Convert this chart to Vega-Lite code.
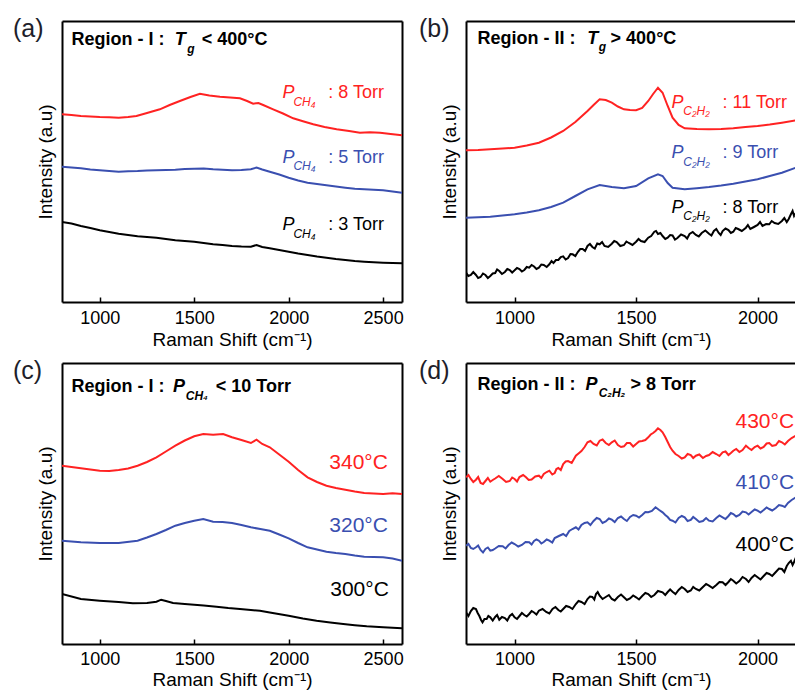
{
  "$schema": "https://vega.github.io/schema/vega-lite/v6.json",
  "padding": {"left": 13, "top": 17, "right": 0, "bottom": 0},
  "background": "white",
  "config": {
    "view": {"stroke": null},
    "font": "Liberation Sans",
    "axis": {"domainColor": "black", "domainWidth": 2, "labelFont": "Liberation Sans", "titleFont": "Liberation Sans", "labelFontSize": 18, "titleFontSize": 19, "titleFontWeight": "normal", "labelColor": "black", "titleColor": "black", "grid": false, "tickColor": "black", "tickSize": -5, "tickWidth": 1.5, "labelPadding": 12.5, "format": "d"},
    "axisX": {"titlePadding": 3},
    "axisY": {"titlePadding": 7},
    "title": {"font": "Liberation Sans", "fontSize": 25, "fontWeight": "normal", "anchor": "start", "frame": "group", "offset": 0, "baseline": "alphabetic", "color": "#1e1e2a"},
    "style": {
      "hd": {"font": "Liberation Sans", "fontSize": 18, "fontWeight": "bold", "align": "left", "baseline": "alphabetic", "color": "black"},
      "hdi": {"font": "Liberation Sans", "fontSize": 18, "fontWeight": "bold", "fontStyle": "italic", "align": "left", "baseline": "alphabetic", "color": "black"},
      "hds": {"font": "Liberation Sans", "fontSize": 12, "fontWeight": "bold", "fontStyle": "italic", "align": "left", "baseline": "alphabetic", "color": "black"},
      "lg": {"font": "Liberation Sans", "fontSize": 18, "align": "left", "baseline": "alphabetic"},
      "lgi": {"font": "Liberation Sans", "fontSize": 18, "fontStyle": "italic", "align": "left", "baseline": "alphabetic"},
      "lgs": {"font": "Liberation Sans", "fontSize": 12, "fontStyle": "italic", "align": "left", "baseline": "alphabetic"},
      "tm": {"font": "Liberation Sans", "fontSize": 21, "align": "left", "baseline": "alphabetic"}
    }
  },
  "datasets": {
    "L": [
      {"p":"a","k":"h","x":850,"y":256.7,"t":"Region - I :"},
      {"p":"a","k":"h","x":1540,"y":256.7,"t":"< 400°C"},
      {"p":"a","k":"hi","x":1397,"y":256.7,"t":"T"},
      {"p":"a","k":"hs","x":1463,"y":249,"t":"g"},
      {"p":"a","k":"l","s":"r","x":2210,"y":203.7,"t":": 8 Torr"},
      {"p":"a","k":"l","s":"b","x":2210,"y":139.3,"t":": 5 Torr"},
      {"p":"a","k":"l","s":"k","x":2210,"y":72,"t":": 3 Torr"},
      {"p":"a","k":"li","s":"r","x":1968,"y":203.7,"t":"P"},
      {"p":"a","k":"li","s":"b","x":1968,"y":139.3,"t":"P"},
      {"p":"a","k":"li","s":"k","x":1968,"y":72,"t":"P"},
      {"p":"a","k":"ls","s":"r","x":2025,"y":196,"t":"CH₄"},
      {"p":"a","k":"ls","s":"b","x":2025,"y":131.6,"t":"CH₄"},
      {"p":"a","k":"ls","s":"k","x":2025,"y":64.3,"t":"CH₄"},
      {"p":"b","k":"h","x":847,"y":257.7,"t":"Region - II :"},
      {"p":"b","k":"h","x":1395,"y":257.7,"t":"> 400°C"},
      {"p":"b","k":"hi","x":1299,"y":257.7,"t":"T"},
      {"p":"b","k":"hs","x":1346,"y":251,"t":"g"},
      {"p":"b","k":"l","s":"r","x":1856,"y":194.3,"t":": 11 Torr"},
      {"p":"b","k":"l","s":"b","x":1856,"y":143.7,"t":":   9 Torr"},
      {"p":"b","k":"l","s":"k","x":1856,"y":89.3,"t":":   8 Torr"},
      {"p":"b","k":"li","s":"r","x":1646,"y":194.3,"t":"P"},
      {"p":"b","k":"li","s":"b","x":1646,"y":143.7,"t":"P"},
      {"p":"b","k":"li","s":"k","x":1646,"y":89.3,"t":"P"},
      {"p":"b","k":"ls","s":"r","x":1694,"y":186.8,"t":"C₂H₂"},
      {"p":"b","k":"ls","s":"b","x":1694,"y":136.2,"t":"C₂H₂"},
      {"p":"b","k":"ls","s":"k","x":1694,"y":81.8,"t":"C₂H₂"},
      {"p":"c","k":"h","x":850,"y":251.7,"t":"Region - I :"},
      {"p":"c","k":"hi","x":1387,"y":251.7,"t":"P"},
      {"p":"c","k":"hs","x":1455,"y":244.5,"t":"CH₄"},
      {"p":"c","k":"h","x":1614,"y":251.7,"t":"< 10 Torr"},
      {"p":"c","k":"tm","s":"r","x":2215,"y":175,"t":"340°C"},
      {"p":"c","k":"tm","s":"b","x":2215,"y":111.7,"t":"320°C"},
      {"p":"c","k":"tm","s":"k","x":2220,"y":48.3,"t":"300°C"},
      {"p":"d","k":"h","x":847,"y":254.3,"t":"Region - II :"},
      {"p":"d","k":"hi","x":1292,"y":254.3,"t":"P"},
      {"p":"d","k":"hs","x":1346,"y":247.5,"t":"C₂H₂"},
      {"p":"d","k":"h","x":1477,"y":254.3,"t":"> 8 Torr"},
      {"p":"d","k":"tm","s":"r","x":1909,"y":215.7,"t":"430°C"},
      {"p":"d","k":"tm","s":"b","x":1909,"y":155,"t":"410°C"},
      {"p":"d","k":"tm","s":"k","x":1909,"y":93.3,"t":"400°C"}
    ],
    "S": [
      {"p":"a","s":"r","x":800,"y":187.7},{"p":"a","s":"r","x":850,"y":187},{"p":"a","s":"r","x":900,"y":186},{"p":"a","s":"r","x":950,"y":185.6},{"p":"a","s":"r","x":1000,"y":185},{"p":"a","s":"r","x":1050,"y":184.8},{"p":"a","s":"r","x":1100,"y":184.3},{"p":"a","s":"r","x":1150,"y":185},{"p":"a","s":"r","x":1194,"y":186},{"p":"a","s":"r","x":1250,"y":189},{"p":"a","s":"r","x":1318,"y":192.7},{"p":"a","s":"r","x":1370,"y":197},{"p":"a","s":"r","x":1424,"y":201},{"p":"a","s":"r","x":1480,"y":205},{"p":"a","s":"r","x":1530,"y":208.3},{"p":"a","s":"r","x":1580,"y":206.5},{"p":"a","s":"r","x":1636,"y":205.3},{"p":"a","s":"r","x":1690,"y":204.5},{"p":"a","s":"r","x":1742,"y":203.7},{"p":"a","s":"r","x":1780,"y":201},{"p":"a","s":"r","x":1812,"y":198.3},{"p":"a","s":"r","x":1840,"y":199},{"p":"a","s":"r","x":1865,"y":197},{"p":"a","s":"r","x":1918,"y":192.7},{"p":"a","s":"r","x":1970,"y":188.5},{"p":"a","s":"r","x":2024,"y":183.7},{"p":"a","s":"r","x":2080,"y":180.5},{"p":"a","s":"r","x":2130,"y":177.7},{"p":"a","s":"r","x":2190,"y":175},{"p":"a","s":"r","x":2254,"y":172.7},{"p":"a","s":"r","x":2320,"y":171},{"p":"a","s":"r","x":2377,"y":169.3},{"p":"a","s":"r","x":2430,"y":169.8},{"p":"a","s":"r","x":2484,"y":169.3},{"p":"a","s":"r","x":2540,"y":168},{"p":"a","s":"r","x":2600,"y":166.7},
      {"p":"a","s":"b","x":800,"y":135.3},{"p":"a","s":"b","x":850,"y":134.5},{"p":"a","s":"b","x":900,"y":133.7},{"p":"a","s":"b","x":950,"y":132.5},{"p":"a","s":"b","x":1000,"y":131.7},{"p":"a","s":"b","x":1050,"y":131},{"p":"a","s":"b","x":1100,"y":130.3},{"p":"a","s":"b","x":1150,"y":130.8},{"p":"a","s":"b","x":1200,"y":131},{"p":"a","s":"b","x":1250,"y":131.5},{"p":"a","s":"b","x":1300,"y":131.7},{"p":"a","s":"b","x":1350,"y":132},{"p":"a","s":"b","x":1400,"y":132.3},{"p":"a","s":"b","x":1450,"y":133},{"p":"a","s":"b","x":1500,"y":133.3},{"p":"a","s":"b","x":1550,"y":133.5},{"p":"a","s":"b","x":1600,"y":132.7},{"p":"a","s":"b","x":1650,"y":132.2},{"p":"a","s":"b","x":1700,"y":131.7},{"p":"a","s":"b","x":1750,"y":132},{"p":"a","s":"b","x":1800,"y":132.7},{"p":"a","s":"b","x":1830,"y":134.5},{"p":"a","s":"b","x":1860,"y":132.5},{"p":"a","s":"b","x":1900,"y":130.3},{"p":"a","s":"b","x":1950,"y":127.5},{"p":"a","s":"b","x":2000,"y":124.3},{"p":"a","s":"b","x":2050,"y":121.5},{"p":"a","s":"b","x":2100,"y":119.3},{"p":"a","s":"b","x":2150,"y":118},{"p":"a","s":"b","x":2200,"y":116.7},{"p":"a","s":"b","x":2250,"y":115.5},{"p":"a","s":"b","x":2300,"y":114.3},{"p":"a","s":"b","x":2350,"y":113.2},{"p":"a","s":"b","x":2400,"y":112.7},{"p":"a","s":"b","x":2450,"y":112.2},{"p":"a","s":"b","x":2500,"y":111.7},{"p":"a","s":"b","x":2550,"y":110.5},{"p":"a","s":"b","x":2600,"y":109.3},
      {"p":"a","s":"k","x":800,"y":80},{"p":"a","s":"k","x":850,"y":78.5},{"p":"a","s":"k","x":900,"y":76},{"p":"a","s":"k","x":950,"y":74},{"p":"a","s":"k","x":1000,"y":71.7},{"p":"a","s":"k","x":1050,"y":70},{"p":"a","s":"k","x":1100,"y":68.3},{"p":"a","s":"k","x":1150,"y":67},{"p":"a","s":"k","x":1200,"y":65.7},{"p":"a","s":"k","x":1250,"y":65},{"p":"a","s":"k","x":1300,"y":64.3},{"p":"a","s":"k","x":1350,"y":63},{"p":"a","s":"k","x":1400,"y":61.7},{"p":"a","s":"k","x":1450,"y":61},{"p":"a","s":"k","x":1500,"y":60.3},{"p":"a","s":"k","x":1550,"y":59},{"p":"a","s":"k","x":1600,"y":57.7},{"p":"a","s":"k","x":1650,"y":57},{"p":"a","s":"k","x":1700,"y":56},{"p":"a","s":"k","x":1750,"y":55.5},{"p":"a","s":"k","x":1800,"y":55.3},{"p":"a","s":"k","x":1830,"y":57},{"p":"a","s":"k","x":1860,"y":55},{"p":"a","s":"k","x":1900,"y":53.7},{"p":"a","s":"k","x":1950,"y":52},{"p":"a","s":"k","x":2000,"y":50.3},{"p":"a","s":"k","x":2050,"y":48.5},{"p":"a","s":"k","x":2100,"y":47},{"p":"a","s":"k","x":2150,"y":45.5},{"p":"a","s":"k","x":2200,"y":44.3},{"p":"a","s":"k","x":2250,"y":43},{"p":"a","s":"k","x":2300,"y":42},{"p":"a","s":"k","x":2350,"y":41},{"p":"a","s":"k","x":2400,"y":40.3},{"p":"a","s":"k","x":2450,"y":39.8},{"p":"a","s":"k","x":2500,"y":39.3},{"p":"a","s":"k","x":2550,"y":39},{"p":"a","s":"k","x":2600,"y":38.7},
      {"p":"b","s":"r","x":800,"y":151.7},{"p":"b","s":"r","x":850,"y":152},{"p":"b","s":"r","x":900,"y":152.7},{"p":"b","s":"r","x":950,"y":153.5},{"p":"b","s":"r","x":1000,"y":154.3},{"p":"b","s":"r","x":1050,"y":156.5},{"p":"b","s":"r","x":1100,"y":159.3},{"p":"b","s":"r","x":1150,"y":164.5},{"p":"b","s":"r","x":1200,"y":171},{"p":"b","s":"r","x":1250,"y":180},{"p":"b","s":"r","x":1300,"y":191},{"p":"b","s":"r","x":1325,"y":197},{"p":"b","s":"r","x":1350,"y":202.7},{"p":"b","s":"r","x":1375,"y":202},{"p":"b","s":"r","x":1400,"y":199.3},{"p":"b","s":"r","x":1425,"y":195.5},{"p":"b","s":"r","x":1450,"y":192.7},{"p":"b","s":"r","x":1475,"y":192},{"p":"b","s":"r","x":1500,"y":191.7},{"p":"b","s":"r","x":1525,"y":194},{"p":"b","s":"r","x":1550,"y":201},{"p":"b","s":"r","x":1570,"y":208},{"p":"b","s":"r","x":1590,"y":214.3},{"p":"b","s":"r","x":1609,"y":209.3},{"p":"b","s":"r","x":1630,"y":196},{"p":"b","s":"r","x":1650,"y":184.3},{"p":"b","s":"r","x":1675,"y":177},{"p":"b","s":"r","x":1700,"y":173.7},{"p":"b","s":"r","x":1750,"y":173},{"p":"b","s":"r","x":1800,"y":172.7},{"p":"b","s":"r","x":1850,"y":173},{"p":"b","s":"r","x":1900,"y":173.7},{"p":"b","s":"r","x":1950,"y":175},{"p":"b","s":"r","x":2000,"y":176},{"p":"b","s":"r","x":2050,"y":177.5},{"p":"b","s":"r","x":2100,"y":179.3},{"p":"b","s":"r","x":2158,"y":181.7},{"p":"b","s":"r","x":2200,"y":183},
      {"p":"b","s":"b","x":800,"y":84.3},{"p":"b","s":"b","x":850,"y":84.8},{"p":"b","s":"b","x":900,"y":85.3},{"p":"b","s":"b","x":950,"y":86.5},{"p":"b","s":"b","x":1000,"y":87.7},{"p":"b","s":"b","x":1050,"y":89.5},{"p":"b","s":"b","x":1100,"y":91.7},{"p":"b","s":"b","x":1150,"y":95},{"p":"b","s":"b","x":1200,"y":99.3},{"p":"b","s":"b","x":1250,"y":106},{"p":"b","s":"b","x":1300,"y":112.7},{"p":"b","s":"b","x":1350,"y":117},{"p":"b","s":"b","x":1400,"y":115},{"p":"b","s":"b","x":1450,"y":113.7},{"p":"b","s":"b","x":1500,"y":116},{"p":"b","s":"b","x":1550,"y":123.7},{"p":"b","s":"b","x":1590,"y":127.7},{"p":"b","s":"b","x":1609,"y":126},{"p":"b","s":"b","x":1630,"y":119},{"p":"b","s":"b","x":1650,"y":114.3},{"p":"b","s":"b","x":1700,"y":112.7},{"p":"b","s":"b","x":1750,"y":113.8},{"p":"b","s":"b","x":1800,"y":115},{"p":"b","s":"b","x":1850,"y":116.5},{"p":"b","s":"b","x":1900,"y":118.3},{"p":"b","s":"b","x":1950,"y":120.5},{"p":"b","s":"b","x":2000,"y":122.7},{"p":"b","s":"b","x":2050,"y":126},{"p":"b","s":"b","x":2100,"y":129.3},{"p":"b","s":"b","x":2158,"y":134.3},{"p":"b","s":"b","x":2200,"y":136},
      {"p":"b","s":"k","x":800,"y":29.3},{"p":"b","s":"k","x":810,"y":26},{"p":"b","s":"k","x":820,"y":27},{"p":"b","s":"k","x":830,"y":30},{"p":"b","s":"k","x":841,"y":27},{"p":"b","s":"k","x":850,"y":24},{"p":"b","s":"k","x":860,"y":25},{"p":"b","s":"k","x":870,"y":28.5},{"p":"b","s":"k","x":880,"y":27},{"p":"b","s":"k","x":890,"y":24},{"p":"b","s":"k","x":900,"y":26},{"p":"b","s":"k","x":910,"y":28.5},{"p":"b","s":"k","x":920,"y":29},{"p":"b","s":"k","x":928,"y":32.5},{"p":"b","s":"k","x":937,"y":31},{"p":"b","s":"k","x":948,"y":28},{"p":"b","s":"k","x":960,"y":30},{"p":"b","s":"k","x":970,"y":33},{"p":"b","s":"k","x":980,"y":32},{"p":"b","s":"k","x":990,"y":29.5},{"p":"b","s":"k","x":1000,"y":31.7},{"p":"b","s":"k","x":1010,"y":34},{"p":"b","s":"k","x":1020,"y":33},{"p":"b","s":"k","x":1030,"y":30.5},{"p":"b","s":"k","x":1040,"y":32},{"p":"b","s":"k","x":1050,"y":35},{"p":"b","s":"k","x":1060,"y":34.3},{"p":"b","s":"k","x":1070,"y":37},{"p":"b","s":"k","x":1080,"y":35.5},{"p":"b","s":"k","x":1090,"y":33},{"p":"b","s":"k","x":1100,"y":34.3},{"p":"b","s":"k","x":1110,"y":37.5},{"p":"b","s":"k","x":1120,"y":37},{"p":"b","s":"k","x":1132,"y":35},{"p":"b","s":"k","x":1143,"y":37.7},{"p":"b","s":"k","x":1152,"y":41},{"p":"b","s":"k","x":1160,"y":39},{"p":"b","s":"k","x":1170,"y":42},{"p":"b","s":"k","x":1180,"y":42},{"p":"b","s":"k","x":1190,"y":45},{"p":"b","s":"k","x":1200,"y":45.7},{"p":"b","s":"k","x":1210,"y":42.5},{"p":"b","s":"k","x":1220,"y":44},{"p":"b","s":"k","x":1230,"y":48},{"p":"b","s":"k","x":1239,"y":47.7},{"p":"b","s":"k","x":1250,"y":46},{"p":"b","s":"k","x":1260,"y":50},{"p":"b","s":"k","x":1270,"y":53},{"p":"b","s":"k","x":1280,"y":53},{"p":"b","s":"k","x":1290,"y":51},{"p":"b","s":"k","x":1300,"y":56},{"p":"b","s":"k","x":1310,"y":58},{"p":"b","s":"k","x":1320,"y":55},{"p":"b","s":"k","x":1330,"y":53.5},{"p":"b","s":"k","x":1340,"y":58.5},{"p":"b","s":"k","x":1350,"y":57.7},{"p":"b","s":"k","x":1360,"y":60},{"p":"b","s":"k","x":1370,"y":56},{"p":"b","s":"k","x":1385,"y":55},{"p":"b","s":"k","x":1400,"y":58.3},{"p":"b","s":"k","x":1410,"y":61},{"p":"b","s":"k","x":1420,"y":60},{"p":"b","s":"k","x":1435,"y":56},{"p":"b","s":"k","x":1450,"y":57},{"p":"b","s":"k","x":1460,"y":60.5},{"p":"b","s":"k","x":1470,"y":59},{"p":"b","s":"k","x":1485,"y":57},{"p":"b","s":"k","x":1500,"y":60.3},{"p":"b","s":"k","x":1510,"y":63},{"p":"b","s":"k","x":1520,"y":61},{"p":"b","s":"k","x":1535,"y":60},{"p":"b","s":"k","x":1550,"y":64.3},{"p":"b","s":"k","x":1562,"y":66},{"p":"b","s":"k","x":1575,"y":70.3},{"p":"b","s":"k","x":1582,"y":71},{"p":"b","s":"k","x":1590,"y":68},{"p":"b","s":"k","x":1600,"y":69},{"p":"b","s":"k","x":1609,"y":66},{"p":"b","s":"k","x":1620,"y":63},{"p":"b","s":"k","x":1630,"y":64.3},{"p":"b","s":"k","x":1640,"y":67},{"p":"b","s":"k","x":1650,"y":66.5},{"p":"b","s":"k","x":1660,"y":62.5},{"p":"b","s":"k","x":1670,"y":64},{"p":"b","s":"k","x":1685,"y":67.5},{"p":"b","s":"k","x":1700,"y":66},{"p":"b","s":"k","x":1710,"y":63.5},{"p":"b","s":"k","x":1720,"y":68},{"p":"b","s":"k","x":1733,"y":70},{"p":"b","s":"k","x":1746,"y":67},{"p":"b","s":"k","x":1758,"y":65.5},{"p":"b","s":"k","x":1770,"y":69},{"p":"b","s":"k","x":1785,"y":71.5},{"p":"b","s":"k","x":1800,"y":68.3},{"p":"b","s":"k","x":1810,"y":66.5},{"p":"b","s":"k","x":1820,"y":71},{"p":"b","s":"k","x":1830,"y":73},{"p":"b","s":"k","x":1840,"y":69},{"p":"b","s":"k","x":1848,"y":67},{"p":"b","s":"k","x":1856,"y":71},{"p":"b","s":"k","x":1868,"y":73.5},{"p":"b","s":"k","x":1880,"y":72},{"p":"b","s":"k","x":1890,"y":69},{"p":"b","s":"k","x":1900,"y":70.3},{"p":"b","s":"k","x":1910,"y":74},{"p":"b","s":"k","x":1920,"y":73},{"p":"b","s":"k","x":1935,"y":71},{"p":"b","s":"k","x":1952,"y":74.3},{"p":"b","s":"k","x":1960,"y":77},{"p":"b","s":"k","x":1970,"y":73},{"p":"b","s":"k","x":1985,"y":75},{"p":"b","s":"k","x":2000,"y":77},{"p":"b","s":"k","x":2010,"y":80},{"p":"b","s":"k","x":2020,"y":76},{"p":"b","s":"k","x":2035,"y":78},{"p":"b","s":"k","x":2048,"y":77.7},{"p":"b","s":"k","x":2058,"y":81},{"p":"b","s":"k","x":2070,"y":79},{"p":"b","s":"k","x":2085,"y":78},{"p":"b","s":"k","x":2100,"y":81},{"p":"b","s":"k","x":2110,"y":84},{"p":"b","s":"k","x":2120,"y":80},{"p":"b","s":"k","x":2128,"y":83},{"p":"b","s":"k","x":2137,"y":87.7},{"p":"b","s":"k","x":2144,"y":91},{"p":"b","s":"k","x":2150,"y":86},{"p":"b","s":"k","x":2158,"y":89.3},{"p":"b","s":"k","x":2170,"y":92},{"p":"b","s":"k","x":2180,"y":90},
      {"p":"c","s":"r","x":800,"y":178.3},{"p":"c","s":"r","x":900,"y":175.7},{"p":"c","s":"r","x":1000,"y":173.3},{"p":"c","s":"r","x":1050,"y":173},{"p":"c","s":"r","x":1100,"y":174},{"p":"c","s":"r","x":1150,"y":175.5},{"p":"c","s":"r","x":1200,"y":178.3},{"p":"c","s":"r","x":1250,"y":182},{"p":"c","s":"r","x":1300,"y":186.7},{"p":"c","s":"r","x":1350,"y":192.5},{"p":"c","s":"r","x":1400,"y":198.3},{"p":"c","s":"r","x":1450,"y":203.5},{"p":"c","s":"r","x":1500,"y":207.7},{"p":"c","s":"r","x":1548,"y":210},{"p":"c","s":"r","x":1600,"y":209.3},{"p":"c","s":"r","x":1653,"y":210},{"p":"c","s":"r","x":1700,"y":206.7},{"p":"c","s":"r","x":1750,"y":204},{"p":"c","s":"r","x":1800,"y":201},{"p":"c","s":"r","x":1830,"y":204.3},{"p":"c","s":"r","x":1860,"y":200},{"p":"c","s":"r","x":1900,"y":196.7},{"p":"c","s":"r","x":1950,"y":189.5},{"p":"c","s":"r","x":2000,"y":182.3},{"p":"c","s":"r","x":2050,"y":174},{"p":"c","s":"r","x":2100,"y":166.7},{"p":"c","s":"r","x":2150,"y":162},{"p":"c","s":"r","x":2200,"y":158.3},{"p":"c","s":"r","x":2250,"y":156},{"p":"c","s":"r","x":2300,"y":154.3},{"p":"c","s":"r","x":2350,"y":152.5},{"p":"c","s":"r","x":2400,"y":151},{"p":"c","s":"r","x":2450,"y":150.5},{"p":"c","s":"r","x":2500,"y":150},{"p":"c","s":"r","x":2550,"y":150.8},{"p":"c","s":"r","x":2600,"y":150},
      {"p":"c","s":"b","x":800,"y":103.3},{"p":"c","s":"b","x":900,"y":101.7},{"p":"c","s":"b","x":1000,"y":101},{"p":"c","s":"b","x":1100,"y":101},{"p":"c","s":"b","x":1200,"y":103.3},{"p":"c","s":"b","x":1250,"y":106.5},{"p":"c","s":"b","x":1300,"y":110},{"p":"c","s":"b","x":1350,"y":114},{"p":"c","s":"b","x":1400,"y":118.3},{"p":"c","s":"b","x":1450,"y":121},{"p":"c","s":"b","x":1500,"y":123.3},{"p":"c","s":"b","x":1548,"y":125},{"p":"c","s":"b","x":1600,"y":122.3},{"p":"c","s":"b","x":1650,"y":122},{"p":"c","s":"b","x":1700,"y":121},{"p":"c","s":"b","x":1750,"y":119},{"p":"c","s":"b","x":1800,"y":116.7},{"p":"c","s":"b","x":1850,"y":115},{"p":"c","s":"b","x":1900,"y":113.3},{"p":"c","s":"b","x":1950,"y":109.5},{"p":"c","s":"b","x":2000,"y":105.7},{"p":"c","s":"b","x":2050,"y":101},{"p":"c","s":"b","x":2100,"y":96.7},{"p":"c","s":"b","x":2150,"y":94.5},{"p":"c","s":"b","x":2200,"y":92.3},{"p":"c","s":"b","x":2250,"y":91},{"p":"c","s":"b","x":2300,"y":90},{"p":"c","s":"b","x":2350,"y":88.5},{"p":"c","s":"b","x":2400,"y":87.3},{"p":"c","s":"b","x":2450,"y":87},{"p":"c","s":"b","x":2500,"y":86.7},{"p":"c","s":"b","x":2550,"y":85.5},{"p":"c","s":"b","x":2600,"y":83.3},
      {"p":"c","s":"k","x":800,"y":50},{"p":"c","s":"k","x":900,"y":45},{"p":"c","s":"k","x":1000,"y":43.3},{"p":"c","s":"k","x":1100,"y":42},{"p":"c","s":"k","x":1175,"y":40.7},{"p":"c","s":"k","x":1250,"y":41},{"p":"c","s":"k","x":1300,"y":42.3},{"p":"c","s":"k","x":1325,"y":44.3},{"p":"c","s":"k","x":1350,"y":43},{"p":"c","s":"k","x":1388,"y":41},{"p":"c","s":"k","x":1450,"y":40},{"p":"c","s":"k","x":1500,"y":39.3},{"p":"c","s":"k","x":1550,"y":38.5},{"p":"c","s":"k","x":1618,"y":37.3},{"p":"c","s":"k","x":1680,"y":36},{"p":"c","s":"k","x":1742,"y":35},{"p":"c","s":"k","x":1800,"y":34},{"p":"c","s":"k","x":1848,"y":33.3},{"p":"c","s":"k","x":1900,"y":31.5},{"p":"c","s":"k","x":2000,"y":28.3},{"p":"c","s":"k","x":2075,"y":25.5},{"p":"c","s":"k","x":2148,"y":23.3},{"p":"c","s":"k","x":2220,"y":21.5},{"p":"c","s":"k","x":2289,"y":20},{"p":"c","s":"k","x":2350,"y":18.8},{"p":"c","s":"k","x":2413,"y":17.7},{"p":"c","s":"k","x":2500,"y":16.7},{"p":"c","s":"k","x":2600,"y":15.7},
      {"p":"d","s":"r","x":800,"y":166.7},{"p":"d","s":"r","x":810,"y":169},{"p":"d","s":"r","x":820,"y":165},{"p":"d","s":"r","x":830,"y":162},{"p":"d","s":"r","x":841,"y":164.3},{"p":"d","s":"r","x":850,"y":167},{"p":"d","s":"r","x":860,"y":161},{"p":"d","s":"r","x":870,"y":160},{"p":"d","s":"r","x":880,"y":163},{"p":"d","s":"r","x":890,"y":166},{"p":"d","s":"r","x":900,"y":162.3},{"p":"d","s":"r","x":910,"y":164},{"p":"d","s":"r","x":920,"y":165.5},{"p":"d","s":"r","x":935,"y":168},{"p":"d","s":"r","x":951,"y":165},{"p":"d","s":"r","x":965,"y":162},{"p":"d","s":"r","x":980,"y":163},{"p":"d","s":"r","x":990,"y":166.5},{"p":"d","s":"r","x":1000,"y":165},{"p":"d","s":"r","x":1010,"y":162.5},{"p":"d","s":"r","x":1020,"y":167},{"p":"d","s":"r","x":1035,"y":169},{"p":"d","s":"r","x":1047,"y":166.7},{"p":"d","s":"r","x":1058,"y":164},{"p":"d","s":"r","x":1070,"y":164.5},{"p":"d","s":"r","x":1085,"y":167.5},{"p":"d","s":"r","x":1100,"y":168.3},{"p":"d","s":"r","x":1110,"y":166},{"p":"d","s":"r","x":1120,"y":170},{"p":"d","s":"r","x":1132,"y":172},{"p":"d","s":"r","x":1143,"y":173.3},{"p":"d","s":"r","x":1155,"y":169.5},{"p":"d","s":"r","x":1165,"y":171},{"p":"d","s":"r","x":1172,"y":175},{"p":"d","s":"r","x":1180,"y":176},{"p":"d","s":"r","x":1190,"y":174},{"p":"d","s":"r","x":1200,"y":180},{"p":"d","s":"r","x":1210,"y":182.5},{"p":"d","s":"r","x":1220,"y":183},{"p":"d","s":"r","x":1235,"y":181},{"p":"d","s":"r","x":1252,"y":188.3},{"p":"d","s":"r","x":1263,"y":190.5},{"p":"d","s":"r","x":1275,"y":193},{"p":"d","s":"r","x":1288,"y":197},{"p":"d","s":"r","x":1300,"y":201.7},{"p":"d","s":"r","x":1312,"y":203},{"p":"d","s":"r","x":1325,"y":200},{"p":"d","s":"r","x":1338,"y":198.5},{"p":"d","s":"r","x":1350,"y":203.3},{"p":"d","s":"r","x":1362,"y":204.5},{"p":"d","s":"r","x":1375,"y":201},{"p":"d","s":"r","x":1388,"y":199},{"p":"d","s":"r","x":1400,"y":201.7},{"p":"d","s":"r","x":1412,"y":203.5},{"p":"d","s":"r","x":1425,"y":199},{"p":"d","s":"r","x":1438,"y":197},{"p":"d","s":"r","x":1450,"y":197.7},{"p":"d","s":"r","x":1462,"y":201},{"p":"d","s":"r","x":1475,"y":201},{"p":"d","s":"r","x":1488,"y":197.5},{"p":"d","s":"r","x":1500,"y":200},{"p":"d","s":"r","x":1512,"y":202.5},{"p":"d","s":"r","x":1525,"y":203},{"p":"d","s":"r","x":1538,"y":204},{"p":"d","s":"r","x":1550,"y":206.7},{"p":"d","s":"r","x":1560,"y":209.5},{"p":"d","s":"r","x":1570,"y":211},{"p":"d","s":"r","x":1580,"y":213},{"p":"d","s":"r","x":1590,"y":215.7},{"p":"d","s":"r","x":1600,"y":214},{"p":"d","s":"r","x":1609,"y":211.7},{"p":"d","s":"r","x":1620,"y":207},{"p":"d","s":"r","x":1630,"y":202},{"p":"d","s":"r","x":1640,"y":197},{"p":"d","s":"r","x":1650,"y":193.3},{"p":"d","s":"r","x":1662,"y":190},{"p":"d","s":"r","x":1675,"y":188},{"p":"d","s":"r","x":1688,"y":185.5},{"p":"d","s":"r","x":1700,"y":186.7},{"p":"d","s":"r","x":1712,"y":190},{"p":"d","s":"r","x":1725,"y":189},{"p":"d","s":"r","x":1735,"y":186},{"p":"d","s":"r","x":1746,"y":188.3},{"p":"d","s":"r","x":1760,"y":189.5},{"p":"d","s":"r","x":1775,"y":186},{"p":"d","s":"r","x":1788,"y":188},{"p":"d","s":"r","x":1800,"y":189},{"p":"d","s":"r","x":1815,"y":192},{"p":"d","s":"r","x":1830,"y":190},{"p":"d","s":"r","x":1843,"y":188},{"p":"d","s":"r","x":1856,"y":191.7},{"p":"d","s":"r","x":1868,"y":192.5},{"p":"d","s":"r","x":1880,"y":189},{"p":"d","s":"r","x":1890,"y":191},{"p":"d","s":"r","x":1900,"y":193.3},{"p":"d","s":"r","x":1912,"y":195},{"p":"d","s":"r","x":1925,"y":192},{"p":"d","s":"r","x":1938,"y":194},{"p":"d","s":"r","x":1952,"y":198.3},{"p":"d","s":"r","x":1963,"y":196},{"p":"d","s":"r","x":1975,"y":194},{"p":"d","s":"r","x":1988,"y":197},{"p":"d","s":"r","x":2000,"y":198.3},{"p":"d","s":"r","x":2012,"y":195.5},{"p":"d","s":"r","x":2025,"y":197},{"p":"d","s":"r","x":2037,"y":200.5},{"p":"d","s":"r","x":2048,"y":201},{"p":"d","s":"r","x":2060,"y":198},{"p":"d","s":"r","x":2075,"y":199},{"p":"d","s":"r","x":2088,"y":203},{"p":"d","s":"r","x":2100,"y":201.7},{"p":"d","s":"r","x":2112,"y":199.5},{"p":"d","s":"r","x":2125,"y":203},{"p":"d","s":"r","x":2140,"y":206},{"p":"d","s":"r","x":2158,"y":208.3},{"p":"d","s":"r","x":2170,"y":206},{"p":"d","s":"r","x":2180,"y":209},
      {"p":"d","s":"b","x":800,"y":98.3},{"p":"d","s":"b","x":810,"y":100},{"p":"d","s":"b","x":820,"y":96},{"p":"d","s":"b","x":830,"y":95},{"p":"d","s":"b","x":841,"y":96.7},{"p":"d","s":"b","x":850,"y":98.5},{"p":"d","s":"b","x":860,"y":94},{"p":"d","s":"b","x":870,"y":91.5},{"p":"d","s":"b","x":880,"y":95},{"p":"d","s":"b","x":890,"y":96.5},{"p":"d","s":"b","x":900,"y":93.3},{"p":"d","s":"b","x":910,"y":94},{"p":"d","s":"b","x":920,"y":95.5},{"p":"d","s":"b","x":935,"y":98},{"p":"d","s":"b","x":951,"y":97.7},{"p":"d","s":"b","x":963,"y":95.5},{"p":"d","s":"b","x":975,"y":99},{"p":"d","s":"b","x":988,"y":101.5},{"p":"d","s":"b","x":1000,"y":100},{"p":"d","s":"b","x":1015,"y":97.5},{"p":"d","s":"b","x":1030,"y":99},{"p":"d","s":"b","x":1045,"y":102},{"p":"d","s":"b","x":1060,"y":101.7},{"p":"d","s":"b","x":1070,"y":99.5},{"p":"d","s":"b","x":1080,"y":103},{"p":"d","s":"b","x":1090,"y":104.5},{"p":"d","s":"b","x":1100,"y":103.3},{"p":"d","s":"b","x":1110,"y":100.5},{"p":"d","s":"b","x":1120,"y":102},{"p":"d","s":"b","x":1132,"y":104.5},{"p":"d","s":"b","x":1143,"y":103.3},{"p":"d","s":"b","x":1155,"y":101.5},{"p":"d","s":"b","x":1165,"y":106},{"p":"d","s":"b","x":1182,"y":108},{"p":"d","s":"b","x":1200,"y":110},{"p":"d","s":"b","x":1212,"y":108},{"p":"d","s":"b","x":1225,"y":113},{"p":"d","s":"b","x":1238,"y":115},{"p":"d","s":"b","x":1252,"y":116.7},{"p":"d","s":"b","x":1263,"y":114.5},{"p":"d","s":"b","x":1275,"y":119},{"p":"d","s":"b","x":1288,"y":121},{"p":"d","s":"b","x":1300,"y":121.7},{"p":"d","s":"b","x":1312,"y":119},{"p":"d","s":"b","x":1325,"y":123},{"p":"d","s":"b","x":1338,"y":126},{"p":"d","s":"b","x":1350,"y":125},{"p":"d","s":"b","x":1362,"y":121},{"p":"d","s":"b","x":1375,"y":122.5},{"p":"d","s":"b","x":1388,"y":125.5},{"p":"d","s":"b","x":1400,"y":124.3},{"p":"d","s":"b","x":1412,"y":122},{"p":"d","s":"b","x":1425,"y":126},{"p":"d","s":"b","x":1438,"y":127.5},{"p":"d","s":"b","x":1450,"y":125},{"p":"d","s":"b","x":1462,"y":123},{"p":"d","s":"b","x":1475,"y":127},{"p":"d","s":"b","x":1488,"y":129},{"p":"d","s":"b","x":1500,"y":128.3},{"p":"d","s":"b","x":1512,"y":126.5},{"p":"d","s":"b","x":1525,"y":129},{"p":"d","s":"b","x":1538,"y":132},{"p":"d","s":"b","x":1550,"y":131.7},{"p":"d","s":"b","x":1565,"y":133},{"p":"d","s":"b","x":1580,"y":136.7},{"p":"d","s":"b","x":1595,"y":134},{"p":"d","s":"b","x":1609,"y":131.7},{"p":"d","s":"b","x":1620,"y":129},{"p":"d","s":"b","x":1630,"y":127},{"p":"d","s":"b","x":1640,"y":124},{"p":"d","s":"b","x":1650,"y":123.3},{"p":"d","s":"b","x":1662,"y":121.5},{"p":"d","s":"b","x":1675,"y":126},{"p":"d","s":"b","x":1688,"y":128},{"p":"d","s":"b","x":1700,"y":126.7},{"p":"d","s":"b","x":1712,"y":123},{"p":"d","s":"b","x":1725,"y":124},{"p":"d","s":"b","x":1735,"y":127},{"p":"d","s":"b","x":1746,"y":125},{"p":"d","s":"b","x":1760,"y":122},{"p":"d","s":"b","x":1775,"y":123},{"p":"d","s":"b","x":1788,"y":126},{"p":"d","s":"b","x":1800,"y":123.3},{"p":"d","s":"b","x":1815,"y":122.5},{"p":"d","s":"b","x":1830,"y":126},{"p":"d","s":"b","x":1843,"y":128.5},{"p":"d","s":"b","x":1856,"y":126.7},{"p":"d","s":"b","x":1868,"y":125},{"p":"d","s":"b","x":1880,"y":128},{"p":"d","s":"b","x":1890,"y":131},{"p":"d","s":"b","x":1900,"y":130},{"p":"d","s":"b","x":1912,"y":127.5},{"p":"d","s":"b","x":1925,"y":129},{"p":"d","s":"b","x":1938,"y":132.5},{"p":"d","s":"b","x":1952,"y":131.7},{"p":"d","s":"b","x":1963,"y":129.5},{"p":"d","s":"b","x":1975,"y":132},{"p":"d","s":"b","x":1988,"y":134.5},{"p":"d","s":"b","x":2000,"y":133.3},{"p":"d","s":"b","x":2012,"y":131.5},{"p":"d","s":"b","x":2025,"y":134},{"p":"d","s":"b","x":2037,"y":136.5},{"p":"d","s":"b","x":2048,"y":135},{"p":"d","s":"b","x":2060,"y":133.5},{"p":"d","s":"b","x":2075,"y":136},{"p":"d","s":"b","x":2088,"y":139},{"p":"d","s":"b","x":2100,"y":138.3},{"p":"d","s":"b","x":2112,"y":137},{"p":"d","s":"b","x":2125,"y":141},{"p":"d","s":"b","x":2140,"y":144},{"p":"d","s":"b","x":2158,"y":146.7},{"p":"d","s":"b","x":2170,"y":145},{"p":"d","s":"b","x":2180,"y":148},
      {"p":"d","s":"k","x":800,"y":31.7},{"p":"d","s":"k","x":810,"y":28},{"p":"d","s":"k","x":820,"y":33},{"p":"d","s":"k","x":830,"y":36},{"p":"d","s":"k","x":841,"y":35},{"p":"d","s":"k","x":848,"y":31},{"p":"d","s":"k","x":855,"y":28},{"p":"d","s":"k","x":862,"y":24},{"p":"d","s":"k","x":868,"y":21.7},{"p":"d","s":"k","x":876,"y":25},{"p":"d","s":"k","x":885,"y":25},{"p":"d","s":"k","x":892,"y":28},{"p":"d","s":"k","x":900,"y":26.7},{"p":"d","s":"k","x":910,"y":23.5},{"p":"d","s":"k","x":920,"y":27},{"p":"d","s":"k","x":928,"y":29},{"p":"d","s":"k","x":937,"y":24.3},{"p":"d","s":"k","x":948,"y":27},{"p":"d","s":"k","x":960,"y":26},{"p":"d","s":"k","x":970,"y":23.5},{"p":"d","s":"k","x":980,"y":28},{"p":"d","s":"k","x":990,"y":30},{"p":"d","s":"k","x":1000,"y":26.7},{"p":"d","s":"k","x":1010,"y":25},{"p":"d","s":"k","x":1020,"y":28},{"p":"d","s":"k","x":1030,"y":31},{"p":"d","s":"k","x":1040,"y":29},{"p":"d","s":"k","x":1050,"y":27.5},{"p":"d","s":"k","x":1060,"y":30},{"p":"d","s":"k","x":1070,"y":33},{"p":"d","s":"k","x":1080,"y":31.5},{"p":"d","s":"k","x":1090,"y":29.5},{"p":"d","s":"k","x":1100,"y":33.3},{"p":"d","s":"k","x":1115,"y":35},{"p":"d","s":"k","x":1130,"y":32},{"p":"d","s":"k","x":1143,"y":30.5},{"p":"d","s":"k","x":1156,"y":35},{"p":"d","s":"k","x":1168,"y":37},{"p":"d","s":"k","x":1180,"y":34},{"p":"d","s":"k","x":1190,"y":32.5},{"p":"d","s":"k","x":1200,"y":35},{"p":"d","s":"k","x":1212,"y":38},{"p":"d","s":"k","x":1225,"y":37},{"p":"d","s":"k","x":1238,"y":35},{"p":"d","s":"k","x":1252,"y":40},{"p":"d","s":"k","x":1263,"y":43},{"p":"d","s":"k","x":1275,"y":42},{"p":"d","s":"k","x":1288,"y":40},{"p":"d","s":"k","x":1300,"y":45},{"p":"d","s":"k","x":1310,"y":47.5},{"p":"d","s":"k","x":1320,"y":47},{"p":"d","s":"k","x":1328,"y":44.5},{"p":"d","s":"k","x":1335,"y":50},{"p":"d","s":"k","x":1342,"y":52},{"p":"d","s":"k","x":1350,"y":48.3},{"p":"d","s":"k","x":1362,"y":45},{"p":"d","s":"k","x":1375,"y":47},{"p":"d","s":"k","x":1388,"y":49},{"p":"d","s":"k","x":1400,"y":45},{"p":"d","s":"k","x":1412,"y":43.5},{"p":"d","s":"k","x":1425,"y":47},{"p":"d","s":"k","x":1438,"y":49.5},{"p":"d","s":"k","x":1450,"y":46.7},{"p":"d","s":"k","x":1462,"y":44},{"p":"d","s":"k","x":1475,"y":45.5},{"p":"d","s":"k","x":1488,"y":48.5},{"p":"d","s":"k","x":1500,"y":46.7},{"p":"d","s":"k","x":1512,"y":44.5},{"p":"d","s":"k","x":1525,"y":48},{"p":"d","s":"k","x":1538,"y":51},{"p":"d","s":"k","x":1550,"y":50},{"p":"d","s":"k","x":1562,"y":47},{"p":"d","s":"k","x":1575,"y":49},{"p":"d","s":"k","x":1590,"y":53},{"p":"d","s":"k","x":1609,"y":51.7},{"p":"d","s":"k","x":1620,"y":49},{"p":"d","s":"k","x":1630,"y":52},{"p":"d","s":"k","x":1640,"y":54.5},{"p":"d","s":"k","x":1650,"y":52.3},{"p":"d","s":"k","x":1662,"y":50},{"p":"d","s":"k","x":1675,"y":54},{"p":"d","s":"k","x":1688,"y":57},{"p":"d","s":"k","x":1700,"y":55},{"p":"d","s":"k","x":1712,"y":52},{"p":"d","s":"k","x":1725,"y":53.5},{"p":"d","s":"k","x":1735,"y":57},{"p":"d","s":"k","x":1746,"y":55},{"p":"d","s":"k","x":1760,"y":53.5},{"p":"d","s":"k","x":1775,"y":57},{"p":"d","s":"k","x":1788,"y":60},{"p":"d","s":"k","x":1800,"y":58.3},{"p":"d","s":"k","x":1815,"y":56},{"p":"d","s":"k","x":1830,"y":59},{"p":"d","s":"k","x":1843,"y":62},{"p":"d","s":"k","x":1856,"y":61.7},{"p":"d","s":"k","x":1868,"y":59},{"p":"d","s":"k","x":1880,"y":62},{"p":"d","s":"k","x":1890,"y":65},{"p":"d","s":"k","x":1900,"y":63.3},{"p":"d","s":"k","x":1912,"y":60.5},{"p":"d","s":"k","x":1925,"y":63},{"p":"d","s":"k","x":1938,"y":67},{"p":"d","s":"k","x":1952,"y":65},{"p":"d","s":"k","x":1963,"y":62},{"p":"d","s":"k","x":1975,"y":66},{"p":"d","s":"k","x":1988,"y":69},{"p":"d","s":"k","x":2000,"y":66.7},{"p":"d","s":"k","x":2012,"y":64.5},{"p":"d","s":"k","x":2025,"y":68},{"p":"d","s":"k","x":2037,"y":71},{"p":"d","s":"k","x":2048,"y":70},{"p":"d","s":"k","x":2060,"y":68},{"p":"d","s":"k","x":2075,"y":72},{"p":"d","s":"k","x":2088,"y":75.5},{"p":"d","s":"k","x":2100,"y":75},{"p":"d","s":"k","x":2110,"y":72},{"p":"d","s":"k","x":2120,"y":78},{"p":"d","s":"k","x":2128,"y":81},{"p":"d","s":"k","x":2137,"y":83.3},{"p":"d","s":"k","x":2144,"y":79},{"p":"d","s":"k","x":2150,"y":82},{"p":"d","s":"k","x":2158,"y":86.7},{"p":"d","s":"k","x":2170,"y":85},{"p":"d","s":"k","x":2180,"y":88}
    ]
  },
  "vconcat": [
    {"hconcat": [
      {
        "width": 340, "height": 281,
        "title": {"text": "(a)", "dx": -49, "dy": 25},
        "layer": [
          {"data": {"name": "S"}, "transform": [{"filter": "datum.p=='a'"}], "mark": {"type": "line", "strokeWidth": 2, "clip": true},
           "encoding": {
             "x": {"field": "x", "type": "quantitative", "scale": {"domain": [800, 2600], "nice": false, "zero": false}, "axis": {"orient": "bottom", "values": [1000, 1500, 2000, 2500], "format": "d", "title": "Raman Shift (cm⁻¹)"}},
             "y": {"field": "y", "type": "quantitative", "scale": {"domain": [0, 281], "nice": false, "zero": false}, "axis": {"orient": "left", "labels": false, "ticks": false, "title": "Intensity (a.u)"}},
             "color": {"field": "s", "type": "nominal", "scale": {"domain": ["r", "b", "k"], "range": ["#ff2222", "#3a4fb0", "#000000"]}, "legend": null}}},
          {"data": {"name": "L"}, "transform": [{"filter": "datum.p=='a' && datum.k=='h'"}], "mark": {"type": "text", "style": "hd"},
           "encoding": {"x": {"field": "x", "type": "quantitative", "scale": {"domain": [800, 2600], "nice": false, "zero": false}, "axis": {"orient": "top", "labels": false, "ticks": false, "title": null}},
             "y": {"field": "y", "type": "quantitative", "scale": {"domain": [0, 281], "nice": false, "zero": false}, "axis": {"orient": "right", "labels": false, "ticks": false, "title": null}}, "text": {"field": "t"}}},
          {"data": {"name": "L"}, "transform": [{"filter": "datum.p=='a' && datum.k=='hi'"}], "mark": {"type": "text", "style": "hdi"},
           "encoding": {"x": {"field": "x", "type": "quantitative", "scale": {"domain": [800, 2600], "nice": false, "zero": false}, "axis": null}, "y": {"field": "y", "type": "quantitative", "scale": {"domain": [0, 281], "nice": false, "zero": false}, "axis": null}, "text": {"field": "t"}}},
          {"data": {"name": "L"}, "transform": [{"filter": "datum.p=='a' && datum.k=='hs'"}], "mark": {"type": "text", "style": "hds"},
           "encoding": {"x": {"field": "x", "type": "quantitative", "scale": {"domain": [800, 2600], "nice": false, "zero": false}, "axis": null}, "y": {"field": "y", "type": "quantitative", "scale": {"domain": [0, 281], "nice": false, "zero": false}, "axis": null}, "text": {"field": "t"}}},
          {"data": {"name": "L"}, "transform": [{"filter": "datum.p=='a' && datum.k=='l'"}], "mark": {"type": "text", "style": "lg"},
           "encoding": {"x": {"field": "x", "type": "quantitative", "scale": {"domain": [800, 2600], "nice": false, "zero": false}, "axis": null}, "y": {"field": "y", "type": "quantitative", "scale": {"domain": [0, 281], "nice": false, "zero": false}, "axis": null}, "text": {"field": "t"}, "color": {"field": "s", "type": "nominal", "legend": null}}},
          {"data": {"name": "L"}, "transform": [{"filter": "datum.p=='a' && datum.k=='li'"}], "mark": {"type": "text", "style": "lgi"},
           "encoding": {"x": {"field": "x", "type": "quantitative", "scale": {"domain": [800, 2600], "nice": false, "zero": false}, "axis": null}, "y": {"field": "y", "type": "quantitative", "scale": {"domain": [0, 281], "nice": false, "zero": false}, "axis": null}, "text": {"field": "t"}, "color": {"field": "s", "type": "nominal", "legend": null}}},
          {"data": {"name": "L"}, "transform": [{"filter": "datum.p=='a' && datum.k=='ls'"}], "mark": {"type": "text", "style": "lgs"},
           "encoding": {"x": {"field": "x", "type": "quantitative", "scale": {"domain": [800, 2600], "nice": false, "zero": false}, "axis": null}, "y": {"field": "y", "type": "quantitative", "scale": {"domain": [0, 281], "nice": false, "zero": false}, "axis": null}, "text": {"field": "t"}, "color": {"field": "s", "type": "nominal", "legend": null}}}
        ],
        "resolve": {"axis": {"x": "independent", "y": "independent"}}
      },
      {
        "width": 330, "height": 281,
        "title": {"text": "(b)", "dx": -47, "dy": 25},
        "layer": [
          {"data": {"name": "S"}, "transform": [{"filter": "datum.p=='b'"}], "mark": {"type": "line", "strokeWidth": 2, "clip": true},
           "encoding": {
             "x": {"field": "x", "type": "quantitative", "scale": {"domain": [800, 2158], "nice": false, "zero": false}, "axis": {"orient": "bottom", "values": [1000, 1500, 2000], "format": "d", "title": "Raman Shift (cm⁻¹)"}},
             "y": {"field": "y", "type": "quantitative", "scale": {"domain": [0, 281], "nice": false, "zero": false}, "axis": {"orient": "left", "labels": false, "ticks": false, "title": "Intensity (a.u)"}},
             "color": {"field": "s", "type": "nominal", "scale": {"domain": ["r", "b", "k"], "range": ["#ff2222", "#3a4fb0", "#000000"]}, "legend": null}}},
          {"data": {"name": "L"}, "transform": [{"filter": "datum.p=='b' && datum.k=='h'"}], "mark": {"type": "text", "style": "hd"},
           "encoding": {"x": {"field": "x", "type": "quantitative", "scale": {"domain": [800, 2158], "nice": false, "zero": false}, "axis": {"orient": "top", "labels": false, "ticks": false, "title": null}},
             "y": {"field": "y", "type": "quantitative", "scale": {"domain": [0, 281], "nice": false, "zero": false}, "axis": null}, "text": {"field": "t"}}},
          {"data": {"name": "L"}, "transform": [{"filter": "datum.p=='b' && datum.k=='hi'"}], "mark": {"type": "text", "style": "hdi"},
           "encoding": {"x": {"field": "x", "type": "quantitative", "scale": {"domain": [800, 2158], "nice": false, "zero": false}, "axis": null}, "y": {"field": "y", "type": "quantitative", "scale": {"domain": [0, 281], "nice": false, "zero": false}, "axis": null}, "text": {"field": "t"}}},
          {"data": {"name": "L"}, "transform": [{"filter": "datum.p=='b' && datum.k=='hs'"}], "mark": {"type": "text", "style": "hds"},
           "encoding": {"x": {"field": "x", "type": "quantitative", "scale": {"domain": [800, 2158], "nice": false, "zero": false}, "axis": null}, "y": {"field": "y", "type": "quantitative", "scale": {"domain": [0, 281], "nice": false, "zero": false}, "axis": null}, "text": {"field": "t"}}},
          {"data": {"name": "L"}, "transform": [{"filter": "datum.p=='b' && datum.k=='l'"}], "mark": {"type": "text", "style": "lg", "clip": true},
           "encoding": {"x": {"field": "x", "type": "quantitative", "scale": {"domain": [800, 2158], "nice": false, "zero": false}, "axis": null}, "y": {"field": "y", "type": "quantitative", "scale": {"domain": [0, 281], "nice": false, "zero": false}, "axis": null}, "text": {"field": "t"}, "color": {"field": "s", "type": "nominal", "legend": null}}},
          {"data": {"name": "L"}, "transform": [{"filter": "datum.p=='b' && datum.k=='li'"}], "mark": {"type": "text", "style": "lgi"},
           "encoding": {"x": {"field": "x", "type": "quantitative", "scale": {"domain": [800, 2158], "nice": false, "zero": false}, "axis": null}, "y": {"field": "y", "type": "quantitative", "scale": {"domain": [0, 281], "nice": false, "zero": false}, "axis": null}, "text": {"field": "t"}, "color": {"field": "s", "type": "nominal", "legend": null}}},
          {"data": {"name": "L"}, "transform": [{"filter": "datum.p=='b' && datum.k=='ls'"}], "mark": {"type": "text", "style": "lgs"},
           "encoding": {"x": {"field": "x", "type": "quantitative", "scale": {"domain": [800, 2158], "nice": false, "zero": false}, "axis": null}, "y": {"field": "y", "type": "quantitative", "scale": {"domain": [0, 281], "nice": false, "zero": false}, "axis": null}, "text": {"field": "t"}, "color": {"field": "s", "type": "nominal", "legend": null}}}
        ],
        "resolve": {"axis": {"x": "independent", "y": "independent"}}
      }
    ], "spacing": 15},
    {"hconcat": [
      {
        "width": 340, "height": 281,
        "title": {"text": "(c)", "dx": -49, "dy": 25},
        "layer": [
          {"data": {"name": "S"}, "transform": [{"filter": "datum.p=='c'"}], "mark": {"type": "line", "strokeWidth": 2, "clip": true},
           "encoding": {
             "x": {"field": "x", "type": "quantitative", "scale": {"domain": [800, 2600], "nice": false, "zero": false}, "axis": {"orient": "bottom", "values": [1000, 1500, 2000, 2500], "format": "d", "labelPadding": 11.5, "titlePadding": 2, "title": "Raman Shift (cm⁻¹)"}},
             "y": {"field": "y", "type": "quantitative", "scale": {"domain": [0, 281], "nice": false, "zero": false}, "axis": {"orient": "left", "labels": false, "ticks": false, "title": "Intensity (a.u)"}},
             "color": {"field": "s", "type": "nominal", "scale": {"domain": ["r", "b", "k"], "range": ["#ff2222", "#3a4fb0", "#000000"]}, "legend": null}}},
          {"data": {"name": "L"}, "transform": [{"filter": "datum.p=='c' && datum.k=='h'"}], "mark": {"type": "text", "style": "hd"},
           "encoding": {"x": {"field": "x", "type": "quantitative", "scale": {"domain": [800, 2600], "nice": false, "zero": false}, "axis": {"orient": "top", "labels": false, "ticks": false, "title": null}},
             "y": {"field": "y", "type": "quantitative", "scale": {"domain": [0, 281], "nice": false, "zero": false}, "axis": {"orient": "right", "labels": false, "ticks": false, "title": null}}, "text": {"field": "t"}}},
          {"data": {"name": "L"}, "transform": [{"filter": "datum.p=='c' && datum.k=='hi'"}], "mark": {"type": "text", "style": "hdi"},
           "encoding": {"x": {"field": "x", "type": "quantitative", "scale": {"domain": [800, 2600], "nice": false, "zero": false}, "axis": null}, "y": {"field": "y", "type": "quantitative", "scale": {"domain": [0, 281], "nice": false, "zero": false}, "axis": null}, "text": {"field": "t"}}},
          {"data": {"name": "L"}, "transform": [{"filter": "datum.p=='c' && datum.k=='hs'"}], "mark": {"type": "text", "style": "hds"},
           "encoding": {"x": {"field": "x", "type": "quantitative", "scale": {"domain": [800, 2600], "nice": false, "zero": false}, "axis": null}, "y": {"field": "y", "type": "quantitative", "scale": {"domain": [0, 281], "nice": false, "zero": false}, "axis": null}, "text": {"field": "t"}}},
          {"data": {"name": "L"}, "transform": [{"filter": "datum.p=='c' && datum.k=='tm'"}], "mark": {"type": "text", "style": "tm"},
           "encoding": {"x": {"field": "x", "type": "quantitative", "scale": {"domain": [800, 2600], "nice": false, "zero": false}, "axis": null}, "y": {"field": "y", "type": "quantitative", "scale": {"domain": [0, 281], "nice": false, "zero": false}, "axis": null}, "text": {"field": "t"}, "color": {"field": "s", "type": "nominal", "legend": null}}}
        ],
        "resolve": {"axis": {"x": "independent", "y": "independent"}}
      },
      {
        "width": 330, "height": 281,
        "title": {"text": "(d)", "dx": -47, "dy": 25},
        "layer": [
          {"data": {"name": "S"}, "transform": [{"filter": "datum.p=='d'"}], "mark": {"type": "line", "strokeWidth": 2, "clip": true},
           "encoding": {
             "x": {"field": "x", "type": "quantitative", "scale": {"domain": [800, 2158], "nice": false, "zero": false}, "axis": {"orient": "bottom", "values": [1000, 1500, 2000], "format": "d", "labelPadding": 11.5, "titlePadding": 2, "title": "Raman Shift (cm⁻¹)"}},
             "y": {"field": "y", "type": "quantitative", "scale": {"domain": [0, 281], "nice": false, "zero": false}, "axis": {"orient": "left", "labels": false, "ticks": false, "title": "Intensity (a.u)"}},
             "color": {"field": "s", "type": "nominal", "scale": {"domain": ["r", "b", "k"], "range": ["#ff2222", "#3a4fb0", "#000000"]}, "legend": null}}},
          {"data": {"name": "L"}, "transform": [{"filter": "datum.p=='d' && datum.k=='h'"}], "mark": {"type": "text", "style": "hd"},
           "encoding": {"x": {"field": "x", "type": "quantitative", "scale": {"domain": [800, 2158], "nice": false, "zero": false}, "axis": {"orient": "top", "labels": false, "ticks": false, "title": null}},
             "y": {"field": "y", "type": "quantitative", "scale": {"domain": [0, 281], "nice": false, "zero": false}, "axis": null}, "text": {"field": "t"}}},
          {"data": {"name": "L"}, "transform": [{"filter": "datum.p=='d' && datum.k=='hi'"}], "mark": {"type": "text", "style": "hdi"},
           "encoding": {"x": {"field": "x", "type": "quantitative", "scale": {"domain": [800, 2158], "nice": false, "zero": false}, "axis": null}, "y": {"field": "y", "type": "quantitative", "scale": {"domain": [0, 281], "nice": false, "zero": false}, "axis": null}, "text": {"field": "t"}}},
          {"data": {"name": "L"}, "transform": [{"filter": "datum.p=='d' && datum.k=='hs'"}], "mark": {"type": "text", "style": "hds"},
           "encoding": {"x": {"field": "x", "type": "quantitative", "scale": {"domain": [800, 2158], "nice": false, "zero": false}, "axis": null}, "y": {"field": "y", "type": "quantitative", "scale": {"domain": [0, 281], "nice": false, "zero": false}, "axis": null}, "text": {"field": "t"}}},
          {"data": {"name": "L"}, "transform": [{"filter": "datum.p=='d' && datum.k=='tm'"}], "mark": {"type": "text", "style": "tm", "clip": true},
           "encoding": {"x": {"field": "x", "type": "quantitative", "scale": {"domain": [800, 2158], "nice": false, "zero": false}, "axis": null}, "y": {"field": "y", "type": "quantitative", "scale": {"domain": [0, 281], "nice": false, "zero": false}, "axis": null}, "text": {"field": "t"}, "color": {"field": "s", "type": "nominal", "legend": null}}}
        ],
        "resolve": {"axis": {"x": "independent", "y": "independent"}}
      }
    ], "spacing": 15}
  ],
  "spacing": 9
}
